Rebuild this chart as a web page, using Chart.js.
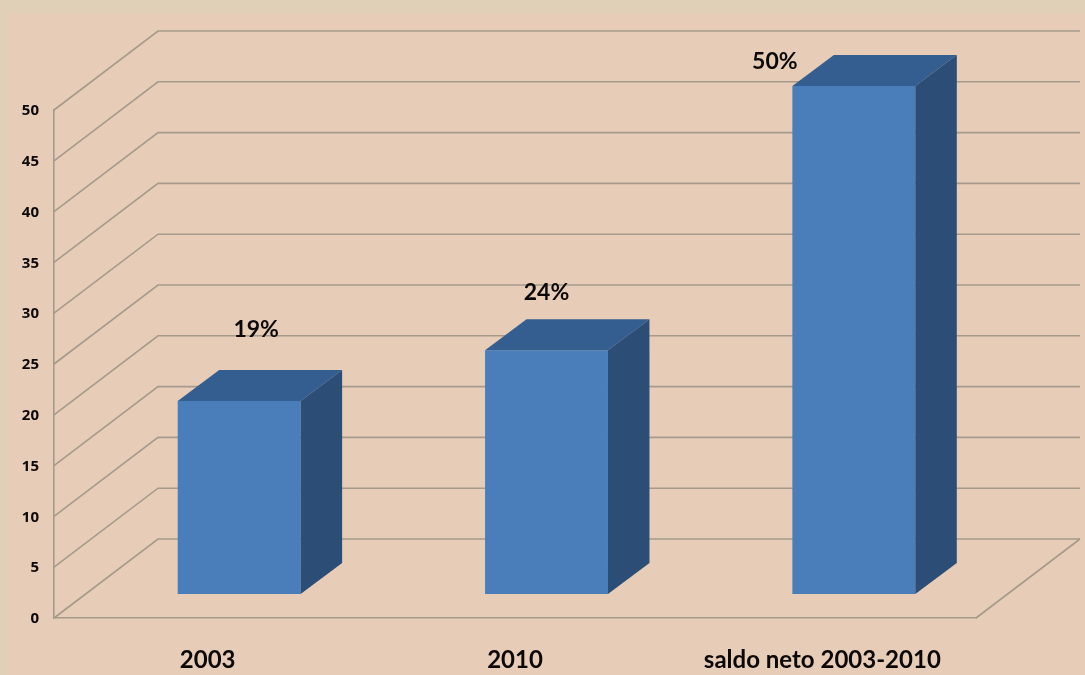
<!DOCTYPE html>
<html>
<head>
<meta charset="utf-8">
<title>Saldo neto 2003-2010</title>
<script src="https://cdn.jsdelivr.net/npm/chart.js@4"></script>
<style>
    html, body { margin: 0; padding: 0; background: #dfd0b7; overflow: hidden; }
    #panel { position: absolute; left: 8px; top: 13px; right: 0; bottom: 0; background: #e7cdb7; }
    #chart { position: absolute; left: 0; top: 0; }
</style>
</head>
<body>
<div id="panel"></div>
<canvas id="chart" width="1085" height="675"></canvas>
<script>
var categories = ['2003', '2010', 'saldo neto 2003-2010'];
var values = [19, 24, 50];
var yTicks = [0, 5, 10, 15, 20, 25, 30, 35, 40, 45, 50];

// how far each value label sits from its bar's top centre
var labelShiftX = [17, 0, -79];
var labelShiftY = [-71, -58, -24];

var WALL_DX = 104, WALL_DY = 79;     // depth of the floor and side wall
var BAR_DX = 31.5, BAR_DY = 24;      // bars stand this far back from the front edge
var SIDE_DX = 41.5, SIDE_DY = 31;    // depth of each bar

var GRID = '#a59a8b';
var GRID_WIDTH = 1.6;
var FRONT = '#4a7ebb';
var TOP = '#355e90';
var SIDE = '#2c4d75';
var LABEL_FONT = 'Lato, sans-serif';

function poly(ctx, pts, color) {
    ctx.fillStyle = color;
    ctx.beginPath();
    ctx.moveTo(pts[0][0], pts[0][1]);
    for (var i = 1; i < pts.length; i++) ctx.lineTo(pts[i][0], pts[i][1]);
    ctx.closePath();
    ctx.fill();
}

// side wall and back wall lines, behind the bars
var walls = {
    id: 'walls',
    beforeDatasetsDraw: function (chart) {
        var ctx = chart.ctx, y = chart.scales.y, area = chart.chartArea;
        ctx.save();
        ctx.strokeStyle = GRID;
        ctx.lineWidth = GRID_WIDTH;
        y.ticks.forEach(function (t) {
            var py = y.getPixelForValue(t.value);
            ctx.beginPath();
            ctx.moveTo(area.left, py);
            ctx.lineTo(area.left + WALL_DX, py - WALL_DY);
            ctx.lineTo(area.right + WALL_DX, py - WALL_DY);
            ctx.stroke();
        });
        // right edge of the floor
        ctx.beginPath();
        ctx.moveTo(area.right, area.bottom);
        ctx.lineTo(area.right + WALL_DX, area.bottom - WALL_DY);
        ctx.stroke();
        ctx.restore();
    }
};

// the library draws the front faces, moved back onto the floor; top and side are added after
var bars3d = {
    id: 'bars3d',
    beforeDatasetDraw: function (chart) {
        chart.ctx.save();
        chart.ctx.translate(BAR_DX, -BAR_DY);
    },
    afterDatasetDraw: function (chart, args) {
        var ctx = chart.ctx;
        ctx.restore();
        args.meta.data.forEach(function (bar) {
            var l = bar.x - bar.width / 2 + BAR_DX;
            var r = bar.x + bar.width / 2 + BAR_DX;
            var t = bar.y - BAR_DY;
            var b = bar.base - BAR_DY;
            poly(ctx, [[l, t], [r, t], [r + SIDE_DX, t - SIDE_DY], [l + SIDE_DX, t - SIDE_DY]], TOP);
            poly(ctx, [[r, t], [r + SIDE_DX, t - SIDE_DY], [r + SIDE_DX, b - SIDE_DY], [r, b]], SIDE);
        });
    }
};

var valueLabels = {
    id: 'valueLabels',
    afterDatasetsDraw: function (chart) {
        var ctx = chart.ctx;
        ctx.save();
        ctx.fillStyle = '#0c0808';
        ctx.font = 'bold 23px ' + LABEL_FONT;
        ctx.textAlign = 'center';
        ctx.textBaseline = 'middle';
        chart.getDatasetMeta(0).data.forEach(function (bar, i) {
            ctx.fillText(values[i] + '%', bar.x + BAR_DX + labelShiftX[i], bar.y - BAR_DY + labelShiftY[i]);
        });
        ctx.restore();
    }
};

new Chart(document.getElementById('chart'), {
    type: 'bar',
    data: {
        labels: categories,
        datasets: [{
            data: values,
            backgroundColor: FRONT,
            categoryPercentage: 0.4,
            barPercentage: 1,
            clip: false
        }]
    },
    options: {
        responsive: false,
        animation: false,
        layout: { padding: { top: 110, right: 109, left: 0, bottom: 0 } },
        plugins: { legend: { display: false }, tooltip: { enabled: false } },
        scales: {
            x: {
                grid: { display: false, drawTicks: false },
                border: { display: true, color: GRID, width: GRID_WIDTH },
                afterFit: function (scale) { scale.height = 57; },
                ticks: {
                    color: '#0c0808',
                    padding: 28,
                    maxRotation: 0,
                    font: { family: LABEL_FONT, weight: 'bold', size: 24 }
                }
            },
            y: {
                min: 0,
                max: 50,
                grid: { display: false, drawTicks: false },
                border: { display: true, color: GRID, width: GRID_WIDTH },
                afterFit: function (scale) { scale.width = 54; },
                afterBuildTicks: function (scale) {
                    scale.ticks = yTicks.map(function (v) { return { value: v }; });
                },
                ticks: {
                    color: '#0c0808',
                    padding: 15,
                    labelOffset: 1,
                    font: { family: 'Open Sans', weight: 'bold', size: 15 }
                }
            }
        }
    },
    plugins: [walls, bars3d, valueLabels]
});
</script>
</body>
</html>
